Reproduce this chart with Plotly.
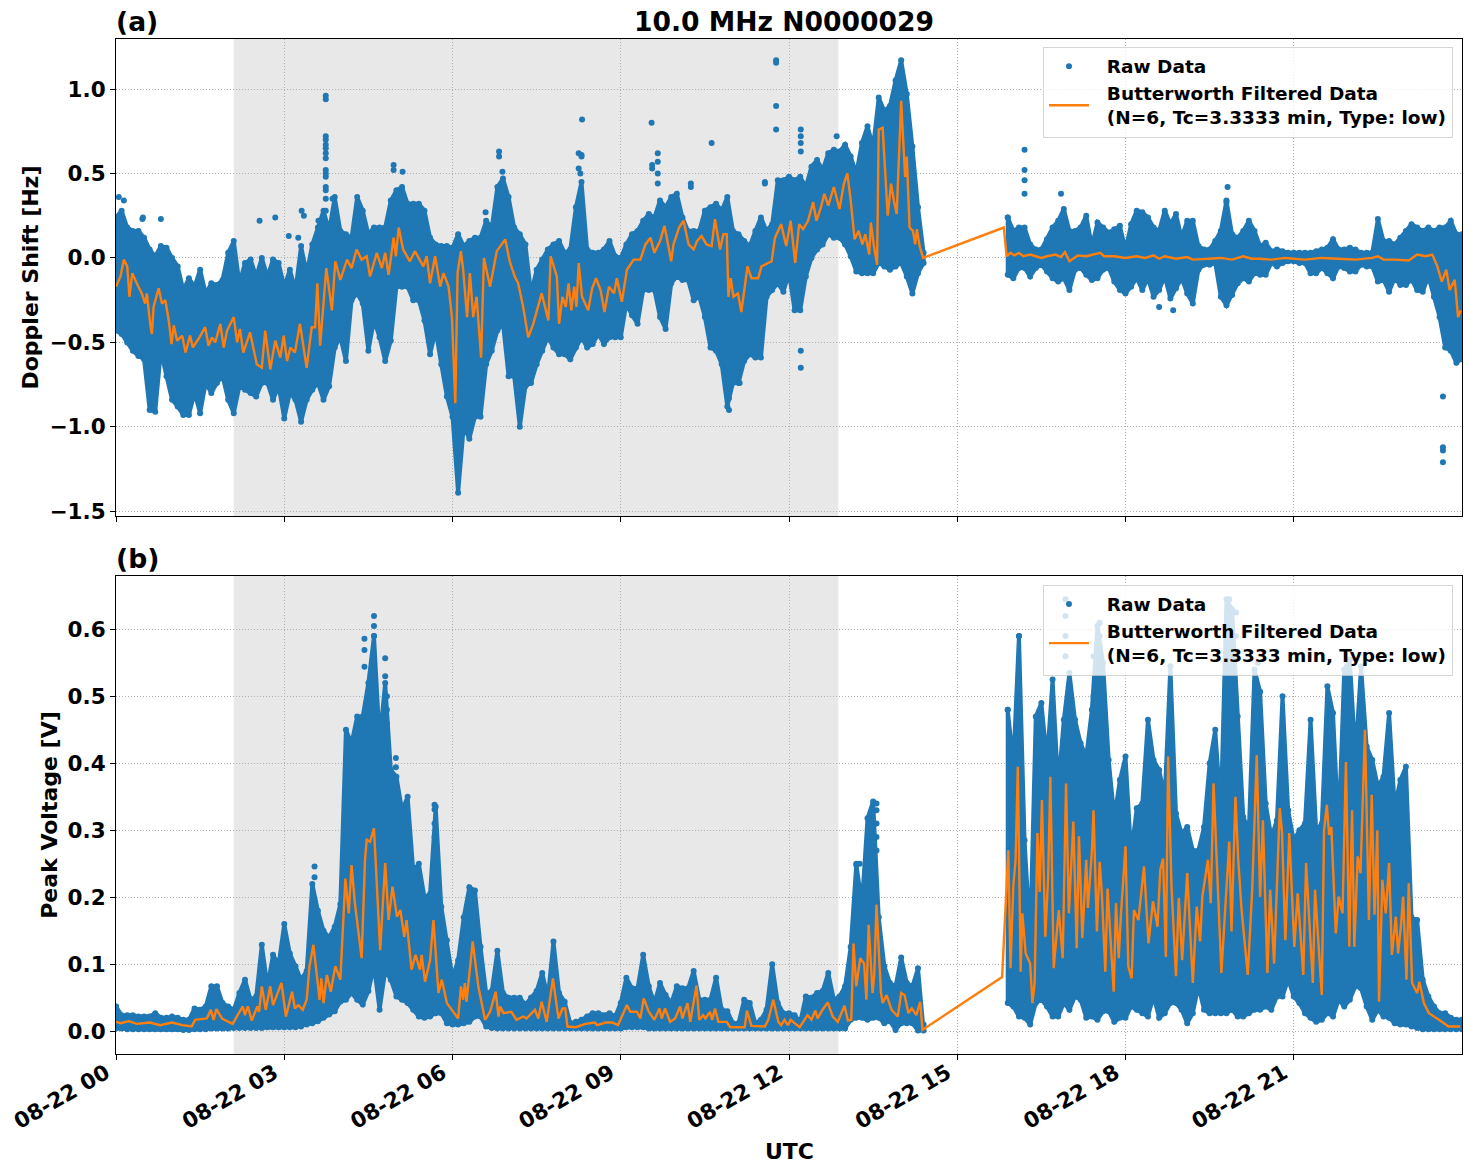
import pandas as pd
import plotly.graph_objects as go
from plotly.subplots import make_subplots

DAY = pd.Timestamp("2021-08-22")
BLUE = "#1f77b4"
ORANGE = "#ff7f0e"
FONT = "DejaVu Sans"

# Sampling instants (hours UTC) of the raw-data envelope; no signal between 14.4 and 15.9.
ENVELOPE_HOURS = [i / 10 for i in range(145)] + [i / 10 for i in range(159, 241)]

# Doppler shift [Hz]: upper and lower limit of the raw samples in each interval.
DOPPLER_HIGH = [
    .24, .28, .18, .16, .16, .12, .05, .01, .07, .06,
    0, -.05, -.19, -.12, -.17, -.07, -.21, -.15, -.16, -.13,
    .03, .1, -.15, -.03, -.01, -.11, 0, -.11, -.01, -.03,
    -.17, -.07, -.19, .07, -.09, .08, .18, .28, .16, .36,
    .16, .14, .12, .36, .28, .14, .18, .18, .18, .34,
    .4, .42, .32, .32, .32, .28, .12, .08, .07, .07,
    .06, .14, .07, .1, .12, .12, .22, .18, .42, .47,
    .36, .18, .14, .08, -.21, -.07, -.01, .05, .08, .1,
    .03, .05, .3, .45, .05, .03, .03, .05, .1, .01,
    0, .08, .14, .16, .22, .26, .24, .34, .3, .36,
    .38, .24, .16, .16, .16, .28, .3, .32, .28, .36,
    .16, .14, .1, .07, .16, .24, .16, .2, .46, .46,
    .48, .46, .48, .42, .54, .58, .52, .62, .64, .63,
    .67, .6, .5, .68, .78, .66, .95, .87, .9, 1.05,
    1.17, .97, .66, .3, .03,
    .24,
    .16, .18, .18, .08, .05, .05, .11, .18, .22, .29,
    .16, .16, .18, .25, .07, .21, .18, .15, .17, .19,
    .05, .2, .28, .27, .24, .18, .16, .28, .2, .26,
    .12, .22, .22, .07, .05, .05, .1, .16, .34, .14,
    .12, .16, .22, .16, .07, .09, .04, .05, .04, .03,
    .03, .03, .03, .03, .04, .05, .06, .11, .05, .05,
    .06, .05, .03, .03, .03, .23, .1, .1, .08, .12,
    .16, .2, .18, .16, .18, .16, .18, .18, .22, .14,
    .14,
]
DOPPLER_LOW = [
    -.43, -.45, -.5, -.55, -.58, -.6, -.9, -.91, -.55, -.7,
    -.84, -.88, -.93, -.93, -.8, -.92, -.74, -.8, -.74, -.7,
    -.84, -.92, -.76, -.78, -.8, -.82, -.74, -.74, -.84, -.76,
    -.95, -.8, -.84, -.97, -.84, -.78, -.74, -.84, -.76, -.53,
    -.47, -.61, -.25, -.21, -.27, -.55, -.37, -.47, -.61, -.49,
    -.17, -.17, -.17, -.25, -.25, -.37, -.57, -.43, -.63, -.82,
    -.94, -1.39, -1.0, -1.07, -.94, -.94, -.63, -.55, -.43, -.39,
    -.7, -.7, -1.0, -.76, -.74, -.63, -.55, -.47, -.53, -.57,
    -.57, -.6, -.53, -.47, -.53, -.51, -.45, -.51, -.47, -.47,
    -.47, -.27, -.34, -.39, -.19, -.19, -.19, -.35, -.42, -.15,
    -.11, -.13, -.13, -.25, -.23, -.35, -.53, -.55, -.63, -.88,
    -.74, -.74, -.61, -.57, -.59, -.59, -.23, -.19, -.15, -.2,
    -.09, -.31, -.31, -.11, 0, .05, .08, .14, .12, .12,
    .08, .01, -.08, -.09, -.09, -.09, -.03, -.05, -.07, -.05,
    -.03, -.11, -.21, -.09, -.03,
    -.1,
    -.12, -.06, -.06, -.11, -.06, -.04, -.08, -.12, -.14, -.12,
    -.19, -.07, -.06, -.1, -.13, -.12, -.07, -.06, -.14, -.19,
    -.21, -.17, -.12, -.19, -.12, -.23, -.19, -.11, -.24, -.18,
    -.12, -.21, -.27, -.07, -.04, -.04, -.03, -.23, -.28, -.22,
    -.15, -.12, -.14, -.09, -.1, -.1, -.03, -.05, -.03, -.02,
    -.02, -.03, -.03, -.09, -.09, -.06, -.09, -.12, -.05, -.06,
    -.08, -.08, -.04, -.05, -.05, -.14, -.13, -.2, -.12, -.16,
    -.16, -.13, -.19, -.2, -.11, -.23, -.35, -.53, -.55, -.62,
    -.6,
]

# Doppler shift: isolated raw samples that stand clear of the envelope.
DOPPLER_OUT_HOURS = [
    .05, .14, .47, .48, .8, 2.56, 2.84, 3.08, 3.25, 3.31, 3.35, 3.61,
    3.74, 3.74, 3.74, 3.74, 3.74, 3.74, 3.74, 3.74, 3.74, 3.74, 3.74, 3.74, 3.74, 3.74, 3.74,
    3.86, 4.95, 4.95, 5.11, 6.59, 6.83, 6.83, 6.89,
    8.31, 8.25, 8.3, 8.3, 8.25, 8.28, 9.55, 9.56, 9.56, 9.66, 9.66, 9.66, 9.66, 10.62,
    10.25, 10.25, 11.57, 11.57, 11.77, 11.77, 11.77, 11.77,
    12.21, 12.21, 12.21, 12.21, 12.85, 12.21, 12.21, 10.93, 10.93, 11.12,
    16.2, 16.2, 16.2, 16.2, 16.85, 19.82, 19.8, 18.6, 18.85,
    23.66, 23.66, 23.66, 23.66,
]
DOPPLER_OUT_VALUES = [
    .36, .34, .23, .24, .23, .22, .24, .13, .12, .28, .25, .22,
    .96, .94, .72, .70, .67, .65, .62, .59, .52, .50, .48, .42, .40, .35, .28,
    .35, .55, .52, .51, .27, .63, .6, .51,
    .82, .62, .61, .6, .53, .5, .80, .55, .53, .62, .57, .5, .44, .68,
    .44, .42, .44, .45, 1.17, 1.155, .9, .76,
    .76, .72, .68, .63, .72, -.55, -.65, -.83, -.9, -.74,
    .64, .52, .46, .38, .38, .42, .33, -.29, -.31,
    -.82, -1.12, -1.14, -1.21,
]

# Doppler shift: low-pass filtered trace.
DOPPLER_FILT_HOURS = [
    0, .08, .14, .2, .24, .29, .37, .46, .52, .55, .61, .64, .67, .76, .82, .88, .94, .99,
    1.03, 1.09, 1.18, 1.24, 1.32, 1.37, 1.47, 1.59, 1.65, 1.71, 1.77, 1.86, 1.92, 1.98,
    2.1, 2.16, 2.21, 2.27, 2.39, 2.51, 2.6, 2.66, 2.75, 2.84, 2.93, 2.99,
    3.05, 3.11, 3.19, 3.28, 3.4, 3.49, 3.55, 3.59, 3.64, 3.75, 3.85, 3.91,
    4.0, 4.12, 4.2, 4.29, 4.38, 4.47, 4.53, 4.65, 4.74, 4.8, 4.86, 4.95, 4.99,
    5.04, 5.12, 5.24, 5.33, 5.48, 5.54, 5.6, 5.69, 5.78, 5.84, 5.93, 5.99,
    6.05, 6.09, 6.15, 6.19, 6.26, 6.31, 6.37, 6.43, 6.51, 6.56, 6.67, 6.79, 6.94,
    7.02, 7.11, 7.17, 7.26, 7.35, 7.44, 7.59, 7.71, 7.75, 7.86,
    7.9, 7.96, 8.02, 8.07, 8.12, 8.17, 8.21, 8.25, 8.31, 8.42, 8.49, 8.56, 8.64, 8.71, 8.79, 8.88, 8.93,
    9.02, 9.11, 9.23, 9.35, 9.44, 9.53, 9.6, 9.7, 9.78, 9.9, 9.94,
    10.04, 10.12, 10.21, 10.3, 10.36, 10.44, 10.53, 10.62, 10.68, 10.77, 10.83, 10.89, 10.92, 10.96,
    11.01, 11.09, 11.15, 11.26, 11.33, 11.45, 11.51, 11.63, 11.69, 11.75, 11.86, 11.95,
    12.03, 12.11, 12.18, 12.25, 12.34, 12.43, 12.49, 12.57, 12.63, 12.7, 12.8, 12.9, 12.98,
    13.04, 13.1, 13.17, 13.24, 13.31, 13.36, 13.43, 13.46, 13.51, 13.57, 13.6, 13.67, 13.76, 13.82, 13.87, 13.92,
    14.0, 14.07, 14.1, 14.15, 14.21, 14.25, 14.28, 14.33, 14.39,
    15.83, 15.88, 15.95, 16.02, 16.1, 16.18, 16.3, 16.4, 16.5, 16.6, 16.75, 16.85, 16.92, 17.0, 17.15,
    17.3, 17.45, 17.55, 17.62, 17.8, 18.0, 18.2, 18.35, 18.5, 18.6, 18.7, 18.9, 19.1, 19.2, 19.4, 19.7,
    19.9, 20.1, 20.25, 20.4, 20.6, 20.85, 21.2, 21.5, 21.8, 22.1, 22.4, 22.5, 22.6, 22.8, 23.05,
    23.2, 23.35, 23.47, 23.56, 23.64, 23.72, 23.78, 23.87, 23.93, 23.98,
]
DOPPLER_FILT_VALUES = [
    -.17, -.11, -.01, -.05, -.23, -.09, -.15, -.21, -.27, -.21, -.39, -.45, -.29, -.18, -.27, -.25, -.37, -.51,
    -.40, -.49, -.46, -.56, -.46, -.53, -.48, -.41, -.52, -.47, -.50, -.39, -.53, -.43,
    -.35, -.50, -.42, -.56, -.44, -.63, -.65, -.43, -.66, -.49, -.59, -.46,
    -.61, -.53, -.56, -.39, -.65, -.41, -.41, -.15, -.52, -.06, -.31, -.02,
    -.13, -.01, -.06, .05, -.01, .01, -.11, .03, -.06, .03, -.10, .12, .01,
    .18, .05, -.02, .04, -.05, .01, -.15, .01, -.17, -.09, -.17, -.35,
    -.86, -.09, .04, -.07, -.35, -.09, -.35, -.23, -.59, 0, -.17, .04, .11,
    -.02, -.11, -.15, -.29, -.47, -.39, -.21, -.37, .01, -.11,
    -.39, -.23, -.29, -.15, -.31, -.17, -.29, -.03, -.23, -.31, -.18, -.12, -.19, -.32, -.17, -.21, -.12,
    -.26, -.07, -.01, -.01, .08, .12, .03, .10, .19, -.02, .08,
    .18, .22, .08, .05, .10, .13, .08, .07, .23, .05, .14, .14, -.23, -.12,
    -.23, -.21, -.32, -.05, -.12, -.12, -.05, -.03, -.02, .12, .20, .07,
    .22, -.03, .20, .17, .22, .33, .22, .30, .38, .31, .42, .29, .44,
    .50, .34, .11, .16, .08, .14, .02, .21, .08, -.04, .76, .77, .25, .44, .34, .26,
    .93, .48, .60, .18, .16, .08, .17, .07, 0,
    .18, .01, .03, .015, .03, .01, .02, .01, 0, .01, .02, .005, .035, -.02, .015,
    .01, .02, .03, .01, .01, 0, .01, 0, .015, -.005, .01, -.005, .005, -.01, -.005, 0,
    -.01, .01, -.005, -.005, -.01, 0, -.01, 0, -.005, -.01, 0, .01, -.01, -.01, -.015,
    .02, .01, .02, -.05, -.14, -.07, -.19, -.13, -.35, -.31,
]

# Peak voltage [V]: upper and lower limit of the raw samples in each interval.
VOLTAGE_HIGH = [
    .037, .024, .024, .024, .022, .022, .022, .027, .02, .02,
    .022, .02, .017, .017, .034, .032, .037, .067, .067, .042,
    .037, .032, .057, .077, .047, .052, .129, .067, .114, .1,
    .16, .116, .097, .077, .09, .22, .18, .15, .14, .156,
    .19, .45, .43, .47, .47, .52, .59, .435, .52, .39,
    .38, .33, .35, .24, .25, .2, .205, .335, .186, .136,
    .08, .106, .17, .215, .21, .126, .057, .06, .12, .057,
    .05, .05, .05, .04, .05, .06, .087, .05, .134, .057,
    .044, .012, .014, .017, .022, .027, .027, .024, .027, .022,
    .042, .08, .064, .064, .114, .067, .042, .072, .054, .042,
    .067, .064, .064, .09, .047, .047, .047, .08, .032, .03,
    .012, .012, .047, .042, .012, .017, .032, .1, .042, .027,
    .027, .024, .014, .052, .05, .057, .06, .087, .047, .052,
    .067, .126, .25, .19, .318, .343, .17, .097, .072, .067,
    .11, .072, .067, .094, .01,
    .48,
    .4, .59, .285, .14, .47, .49, .405, .525, .365, .465,
    .535, .465, .43, .41, .48, .605, .55, .405, .32, .375,
    .41, .265, .333, .34, .465, .405, .39, .35, .545, .325,
    .295, .305, .27, .27, .305, .4, .45, .33, .645, .63,
    .47, .32, .3, .54, .507, .34, .29, .315, .5, .33,
    .285, .3, .31, .465, .3, .31, .515, .475, .3, .54,
    .555, .41, .545, .425, .405, .365, .38, .475, .335, .375,
    .395, .17, .166, .077, .052, .037, .027, .027, .02, .017,
    .017,
]
VOLTAGE_LOW = [
    .004, .004, .003, .003, .003, .003, .003, .003, .003, .003,
    .003, .003, .002, .002, .003, .003, .003, .004, .004, .004,
    .004, .005, .005, .005, .005, .005, .005, .006, .006, .006,
    .006, .006, .006, .007, .01, .012, .015, .02, .025, .03,
    .044, .047, .057, .047, .04, .06, .097, .032, .09, .077,
    .052, .047, .042, .032, .022, .02, .022, .027, .027, .012,
    .01, .01, .012, .014, .022, .022, .007, .005, .004, .004,
    .004, .004, .004, .004, .004, .004, .004, .004, .004, .004,
    .004, .004, .004, .004, .004, .004, .004, .004, .004, .004,
    .004, .006, .006, .006, .006, .004, .004, .004, .004, .004,
    .004, .004, .004, .004, .004, .004, .004, .004, .004, .004,
    .004, .004, .004, .004, .004, .004, .004, .004, .004, .004,
    .004, .004, .004, .004, .004, .004, .004, .004, .004, .004,
    .004, .017, .02, .02, .017, .02, .02, .012, .015, .002,
    .012, .012, .012, .001, .001,
    .042,
    .037, .022, .02, .01, .042, .047, .037, .022, .022, .042,
    .032, .052, .047, .02, .022, .017, .03, .03, .014, .02,
    .02, .037, .032, .027, .022, .052, .02, .027, .042, .042,
    .032, .012, .027, .067, .032, .027, .027, .027, .027, .032,
    .022, .022, .027, .032, .032, .037, .032, .052, .052, .077,
    .052, .042, .027, .02, .014, .017, .027, .022, .047, .037,
    .047, .067, .064, .037, .017, .032, .022, .02, .012, .01,
    .01, .007, .005, .003, .003, .003, .003, .003, .003, .003,
    .003,
]

# Peak voltage: isolated raw samples that stand clear of the envelope.
VOLTAGE_OUT_HOURS = [
    4.6, 4.6, 4.6, 4.6, 4.6, 4.6, 4.6, 4.6, 4.43, 4.43, 4.43, 4.8, 4.8, 4.99, 4.99,
    5.68, 5.68, 5.68, 5.68, 5.68, 5.68, 5.68, 3.54, 3.54, 4.83, 4.83, 4.83, 4.83,
    13.56, 13.56, 13.56, 13.56, 13.56, 13.43, 13.43, 13.43, 13.2, 13.26,
    16.1, 16.93, 16.93, 16.93, 16.93, 17.54, 17.54, 17.54, 17.43, 17.43, 17.43,
    19.85, 19.85, 19.97, 19.97, 19.85, 19.85, 20.36,
]
VOLTAGE_OUT_VALUES = [
    .62, .605, .59, .55, .53, .51, .49, .47, .586, .569, .544, .557, .53, .408, .394,
    .338, .331, .31, .29, .27, .25, .23, .246, .23, .5, .48, .46, .44,
    .34, .33, .31, .29, .27, .31, .29, .28, .248, .25,
    .59, .645, .62, .59, .56, .61, .59, .55, .56, .5, .47,
    .645, .62, .625, .59, .57, .54, .55,
]

# Peak voltage: low-pass filtered trace.
VOLTAGE_FILT_HOURS = [
    0, .08, .23, .37, .61, .79, 1.0, 1.18, 1.35, 1.41, 1.62, 1.69, 1.74, 1.79, 1.89,
    2.08, 2.19, 2.26, 2.3, 2.35, 2.42, 2.52, 2.55, 2.6, 2.67, 2.75, 2.8, 2.87, 2.95,
    3.03, 3.14, 3.19, 3.25, 3.33, 3.4, 3.45, 3.52, 3.63, 3.66, 3.7, 3.76, 3.83, 3.91,
    4.0, 4.09, 4.15, 4.2, 4.26, 4.38, 4.44, 4.47, 4.53, 4.6, 4.71, 4.8, 4.86, 4.93,
    5.01, 5.07, 5.14, 5.18, 5.27, 5.34, 5.42, 5.45, 5.51, 5.6, 5.66, 5.75, 5.81, 5.9,
    6.1, 6.15, 6.19, 6.22, 6.25, 6.36, 6.46, 6.58, 6.67, 6.77, 6.82, 6.85, 6.91,
    7.05, 7.14, 7.26, 7.32, 7.47, 7.53, 7.59, 7.68, 7.79, 7.89,
    7.96, 8.01, 8.05, 8.2, 8.37, 8.54, 8.58, 8.73, 8.85, 8.95,
    9.02, 9.11, 9.17, 9.29, 9.35, 9.41, 9.5, 9.6, 9.69, 9.73, 9.79, 9.88, 9.97,
    10.06, 10.1, 10.19, 10.24, 10.35, 10.4, 10.47, 10.51, 10.59, 10.63, 10.68, 10.74, 10.89, 10.95,
    11.21, 11.25, 11.33, 11.57, 11.63, 11.72, 11.81, 11.86, 11.92, 11.98,
    12.03, 12.1, 12.19, 12.33, 12.4, 12.47, 12.51, 12.59, 12.69, 12.78, 12.87, 12.99,
    13.05, 13.11, 13.15, 13.2, 13.27, 13.34, 13.38, 13.42, 13.49, 13.52, 13.56, 13.64, 13.67, 13.74, 13.83, 13.94,
    14.0, 14.06, 14.13, 14.19, 14.27, 14.34, 14.38,
    15.8, 15.91, 15.95, 16.0, 16.04, 16.08, 16.13, 16.16, 16.22, 16.3, 16.34, 16.38, 16.43, 16.47, 16.51, 16.57,
    16.62, 16.66, 16.72, 16.81, 16.88, 16.94, 16.99, 17.07, 17.13, 17.17, 17.23, 17.3, 17.33, 17.4, 17.43, 17.49,
    17.54, 17.58, 17.64, 17.68, 17.79, 17.83, 17.88, 17.92, 18.0, 18.05, 18.11, 18.15, 18.23, 18.33, 18.41, 18.49,
    18.57, 18.62, 18.67, 18.72, 18.76, 18.82, 18.9, 18.95, 19.01, 19.1, 19.2, 19.27, 19.33, 19.37, 19.47, 19.52,
    19.57, 19.71, 19.85, 19.89, 19.96, 20.01, 20.07, 20.14, 20.18, 20.26, 20.34, 20.4, 20.45, 20.53, 20.58, 20.65,
    20.75, 20.79, 20.85, 20.92, 21.01, 21.07, 21.17, 21.22, 21.34, 21.38, 21.5, 21.54, 21.59, 21.63, 21.67, 21.75,
    21.8, 21.87, 21.93, 21.99, 22.04, 22.08, 22.14, 22.19, 22.23, 22.27, 22.34, 22.39, 22.44, 22.49, 22.52, 22.58,
    22.64, 22.7, 22.75, 22.82, 22.86, 22.91, 22.95, 23.01, 23.05, 23.11, 23.2, 23.24, 23.32, 23.41, 23.59, 23.76, 23.97,
]
VOLTAGE_FILT_VALUES = [
    .014, .012, .015, .011, .013, .009, .013, .009, .007, .017, .019, .032, .017, .033, .019,
    .011, .027, .037, .024, .037, .016, .037, .029, .067, .032, .067, .039, .054, .072,
    .022, .059, .034, .039, .032, .047, .097, .129, .047, .079, .042, .084, .059, .097,
    .077, .228, .176, .248, .191, .109, .256, .286, .283, .303, .121, .251, .166, .216,
    .171, .181, .141, .166, .092, .114, .092, .114, .074, .106, .166, .057, .077, .042,
    .019, .067, .047, .072, .044, .134, .067, .017, .029, .059, .022, .037, .027,
    .029, .017, .022, .019, .032, .019, .044, .014, .079, .019,
    .034, .034, .007, .006, .011, .013, .009, .013, .013, .009,
    .022, .039, .029, .029, .019, .049, .029, .017, .034, .019, .034, .014, .019,
    .037, .019, .042, .014, .068, .017, .024, .019, .029, .017, .034, .014, .014, .006,
    .006, .031, .008, .007, .017, .047, .014, .009, .017, .009,
    .017, .012, .006, .024, .017, .031, .019, .031, .043, .022, .014, .038,
    .016, .017, .131, .067, .109, .101, .047, .159, .057, .084, .189, .057, .042, .054, .032, .022,
    .057, .054, .027, .034, .024, .044, .002,
    .081, .27, .094, .218, .256, .395, .089, .176, .116, .101, .042, .072, .296, .208, .345, .141,
    .228, .38, .094, .181, .109, .37, .176, .313, .124, .291, .139, .256, .184, .268, .33, .149,
    .253, .203, .089, .213, .059, .191, .109, .176, .276, .097, .079, .181, .166, .246, .131, .194,
    .156, .241, .258, .111, .41, .216, .082, .199, .106, .236, .072, .186, .134, .201, .256, .191,
    .37, .087, .283, .149, .35, .256, .181, .124, .084, .213, .412, .201, .315, .087, .211, .101,
    .333, .298, .136, .296, .126, .206, .084, .251, .072, .211, .054, .3, .338, .293, .305, .146,
    .201, .176, .402, .126, .33, .126, .261, .236, .33, .45, .166, .353, .174, .3, .044, .226,
    .176, .251, .114, .171, .116, .156, .201, .077, .221, .072, .057, .074, .042, .027, .017, .007, .007,
]

# Daylight-terminator shading window, hours UTC.
SHADE_START = 2.1
SHADE_END = 12.88

DOPPLER_TICKS = [-1.5, -1.0, -0.5, 0.0, 0.5, 1.0]
VOLTAGE_TICKS = [0.0, 0.1, 0.2, 0.3, 0.4, 0.5, 0.6]
TIME_TICK_HOURS = [0, 3, 6, 9, 12, 15, 18, 21]

assert len(ENVELOPE_HOURS) == len(DOPPLER_HIGH) == len(DOPPLER_LOW) == len(VOLTAGE_HIGH) == len(VOLTAGE_LOW)
assert len(DOPPLER_OUT_HOURS) == len(DOPPLER_OUT_VALUES)
assert len(VOLTAGE_OUT_HOURS) == len(VOLTAGE_OUT_VALUES)
assert len(DOPPLER_FILT_HOURS) == len(DOPPLER_FILT_VALUES)
assert len(VOLTAGE_FILT_HOURS) == len(VOLTAGE_FILT_VALUES)


def stamp(hours):
    return DAY + pd.to_timedelta(hours, unit="h")


def envelope_outline(hours, low, high):
    """Closed outline between the limits, one polygon per stretch of continuous signal."""
    stretches, current = [], []
    for i, h in enumerate(hours):
        if current and h - hours[current[-1]] > 0.2:
            stretches.append(current)
            current = []
        current.append(i)
    stretches.append(current)
    xs, ys = [], []
    for idx in stretches:
        xs += [stamp(hours[i]) for i in idx] + [stamp(hours[i]) for i in idx[::-1]] + [stamp(hours[idx[0]]), None]
        ys += [high[i] for i in idx] + [low[i] for i in idx[::-1]] + [high[idx[0]], None]
    return xs, ys


fig = make_subplots(rows=2, cols=1, shared_xaxes=False, vertical_spacing=0.0592)

GAP = "\u00a0\u00a0"
LEGEND_RAW = f"<b>{GAP}Raw Data</b>"
LEGEND_FILTER = f"<b>{GAP}Butterworth Filtered Data<br>{GAP}(N=6, Tc=3.3333 min, Type: low)</b>"
panels = [
    (1, "legend", DOPPLER_LOW, DOPPLER_HIGH, DOPPLER_OUT_HOURS, DOPPLER_OUT_VALUES,
     DOPPLER_FILT_HOURS, DOPPLER_FILT_VALUES),
    (2, "legend2", VOLTAGE_LOW, VOLTAGE_HIGH, VOLTAGE_OUT_HOURS, VOLTAGE_OUT_VALUES,
     VOLTAGE_FILT_HOURS, VOLTAGE_FILT_VALUES),
]
for row, legend, low, high, out_h, out_v, filt_h, filt_v in panels:
    xs, ys = envelope_outline(ENVELOPE_HOURS, low, high)
    fig.add_trace(go.Scatter(
        x=xs, y=ys, mode="lines+markers", showlegend=False, hoverinfo="skip",
        fill="toself", fillcolor=BLUE,
        line=dict(color=BLUE, width=4), marker=dict(color=BLUE, size=6),
    ), row=row, col=1)
    fig.add_trace(go.Scatter(
        x=[stamp(h) for h in out_h], y=out_v, mode="markers", name=LEGEND_RAW,
        legend=legend, marker=dict(color=BLUE, size=6),
    ), row=row, col=1)
    fig.add_trace(go.Scatter(
        x=[stamp(h) for h in filt_h], y=filt_v, mode="lines", name=LEGEND_FILTER,
        legend=legend, line=dict(color=ORANGE, width=2.4),
    ), row=row, col=1)
    fig.add_shape(
        type="rect", xref=f"x{row}" if row > 1 else "x", yref=f"y{row} domain" if row > 1 else "y domain",
        x0=stamp(SHADE_START), x1=stamp(SHADE_END), y0=0, y1=1,
        fillcolor="rgba(128,128,128,0.18)", line_width=0, layer="below",
    )

tick_font = dict(family=FONT, size=21.5, color="black", weight=700)
axis_title_font = dict(family=FONT, size=22, color="black", weight=700)
common_axis = dict(
    showline=True, linecolor="black", linewidth=1.2, mirror=True,
    ticks="outside", ticklen=5, tickwidth=1.1, tickcolor="black",
    showgrid=True, gridcolor="#b0b0b0", griddash="1px,2px", gridwidth=1,
    zeroline=False, tickfont=tick_font,
)
time_ticks = [stamp(h) for h in TIME_TICK_HOURS]
time_range = [DAY, DAY + pd.Timedelta(hours=24)]

fig.update_xaxes(
    **common_axis, range=time_range, tickmode="array", tickvals=time_ticks, tickformat="%m-%d %H",
)
fig.update_xaxes(showticklabels=False, row=1, col=1)
fig.update_xaxes(tickangle=-30, ticklabelshift=-10, ticklabelstandoff=-8, row=2, col=1)
fig.update_yaxes(
    **common_axis, range=[-1.528, 1.296], tickmode="array", tickvals=DOPPLER_TICKS,
    tickformat=".1f", title=dict(text="Doppler Shift [Hz]", font=axis_title_font, standoff=4),
    row=1, col=1,
)
fig.update_yaxes(
    **common_axis, range=[-0.034, 0.6796], tickmode="array", tickvals=VOLTAGE_TICKS,
    tickformat=".1f", title=dict(text="Peak Voltage [V]", font=axis_title_font, standoff=3),
    row=2, col=1,
)

legend_style = dict(
    xref="paper", yref="paper", x=0.9933, xanchor="right", yanchor="top",
    bgcolor="rgba(255,255,255,0.8)", bordercolor="rgba(204,204,204,0.8)", borderwidth=1,
    font=dict(family=FONT, size=18.5, color="black"), itemwidth=40, tracegroupgap=0,
)

fig.update_layout(
    width=1471, height=1172, autosize=False,
    margin=dict(l=116, r=9, t=39, b=118),
    paper_bgcolor="white", plot_bgcolor="white",
    font=dict(family=FONT),
    legend=dict(**legend_style, y=0.9925),
    legend2=dict(**legend_style, y=0.4625),
    xaxis=dict(domain=[0, 1]), xaxis2=dict(domain=[0, 1]),
    yaxis=dict(domain=[0.5300, 1]), yaxis2=dict(domain=[0, 0.4709]),
    annotations=[
        dict(text="<b>10.0 MHz N0000029</b>", xref="paper", yref="paper", x=0.5, y=1.0, xshift=-5,
             xanchor="center", yanchor="bottom", showarrow=False,
             font=dict(family=FONT, size=26.6, color="black")),
        dict(text="<b>(a)</b>", xref="paper", yref="paper", x=0, y=1.0, xshift=-2,
             xanchor="left", yanchor="bottom", showarrow=False,
             font=dict(family=FONT, size=26.6, color="black")),
        dict(text="<b>(b)</b>", xref="paper", yref="paper", x=0, y=0.4709, xshift=-2,
             xanchor="left", yanchor="bottom", showarrow=False,
             font=dict(family=FONT, size=26.6, color="black")),
        dict(text="UTC", xref="paper", yref="paper", x=0.5, y=0, yshift=-97,
             xanchor="center", yanchor="middle", showarrow=False, font=axis_title_font),
    ],
)

fig.write_html("out.html")
